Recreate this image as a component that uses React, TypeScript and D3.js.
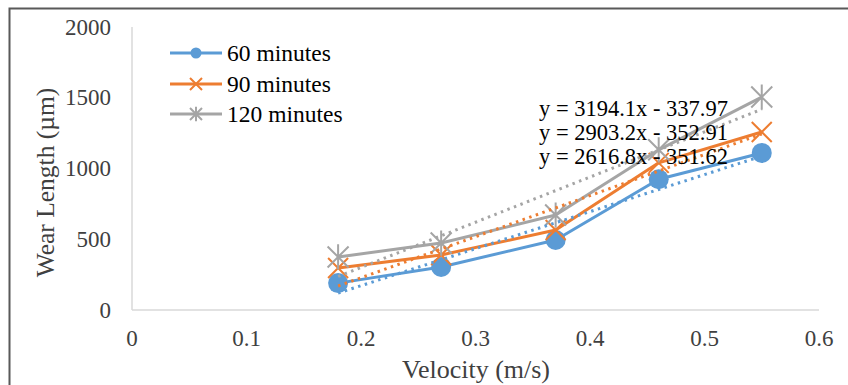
import { useRef, useEffect } from 'react';
import * as d3 from 'd3';

const VELOCITY = [0.18, 0.27, 0.37, 0.46, 0.55];
const WEAR_60 = [190, 304, 495, 924, 1110];
const WEAR_90 = [297, 389, 565, 1040, 1258];
const WEAR_120 = [375, 473, 671, 1132, 1505];

const SERIES = [
  { name: '60 minutes', values: WEAR_60, color: '#5B9BD5', marker: 'circle', eq: 'y = 2616.8x - 351.62', slope: 2616.8, icpt: -351.62 },
  { name: '90 minutes', values: WEAR_90, color: '#ED7D31', marker: 'x', eq: 'y = 2903.2x - 352.91', slope: 2903.2, icpt: -352.91 },
  { name: '120 minutes', values: WEAR_120, color: '#A5A5A5', marker: 'star', eq: 'y = 3194.1x - 337.97', slope: 3194.1, icpt: -337.97 },
];

const X_TICKS = [0, 0.1, 0.2, 0.3, 0.4, 0.5, 0.6];
const Y_TICKS = [0, 500, 1000, 1500, 2000];

const FONT = '"Liberation Serif", "Times New Roman", serif';

type Sel = d3.Selection<SVGGElement, unknown, null, undefined>;

function drawMarker(g: Sel, kind: string, cx: number, cy: number, s: number, color: string) {
  if (kind === 'circle') {
    g.append('circle').attr('cx', cx).attr('cy', cy).attr('r', s).attr('fill', color);
  } else if (kind === 'x') {
    g.append('path')
      .attr('d', `M${cx - s},${cy - s}L${cx + s},${cy + s}M${cx - s},${cy + s}L${cx + s},${cy - s}`)
      .attr('stroke', color).attr('stroke-width', 2).attr('fill', 'none');
  } else {
    g.append('path')
      .attr('d', `M${cx - s},${cy - s}L${cx + s},${cy + s}M${cx - s},${cy + s}L${cx + s},${cy - s}M${cx},${cy - s * 1.2}L${cx},${cy + s * 1.2}`)
      .attr('stroke', color).attr('stroke-width', 2).attr('fill', 'none');
  }
}

export default function App() {
  const svgRef = useRef<SVGSVGElement>(null);

  useEffect(() => {
    if (!svgRef.current) return;
    const width = 848;
    const height = 385;
    const svg = d3.select(svgRef.current);
    svg.selectAll('*').remove();

    svg.append('rect').attr('width', width).attr('height', height).attr('fill', 'white');

    // chart frame (right and bottom edges cropped off)
    svg.append('rect')
      .attr('x', 9.5).attr('y', 8.5).attr('width', 860).attr('height', 420)
      .attr('fill', 'none').attr('stroke', '#595959').attr('stroke-width', 2);

    const x = d3.scaleLinear().domain([0, 0.6]).range([132, 819]);
    const y = d3.scaleLinear().domain([0, 2000]).range([310, 27]);

    // axes lines
    svg.append('line')
      .attr('x1', x(0)).attr('x2', x(0)).attr('y1', y(2000)).attr('y2', y(0))
      .attr('stroke', '#D9D9D9').attr('stroke-width', 1.5);
    svg.append('line')
      .attr('x1', x(0)).attr('x2', x(0.6)).attr('y1', y(0)).attr('y2', y(0))
      .attr('stroke', '#D9D9D9').attr('stroke-width', 1.5);

    // tick labels
    svg.append('g').selectAll('text').data(Y_TICKS).join('text')
      .attr('x', 111).attr('y', d => y(d))
      .attr('text-anchor', 'end').attr('dominant-baseline', 'central')
      .attr('font-family', FONT).attr('font-size', 23).attr('fill', '#404040')
      .text(d => String(d));
    svg.append('g').selectAll('text').data(X_TICKS).join('text')
      .attr('x', d => x(d)).attr('y', 338)
      .attr('text-anchor', 'middle').attr('dominant-baseline', 'central')
      .attr('font-family', FONT).attr('font-size', 23).attr('fill', '#404040')
      .text(d => String(d));

    // axis titles
    svg.append('text')
      .attr('transform', `translate(45,${(y(0) + y(2000)) / 2 + 14}) rotate(-90)`)
      .attr('text-anchor', 'middle').attr('dominant-baseline', 'central')
      .attr('font-family', FONT).attr('font-size', 25.5).attr('fill', '#404040')
      .text('Wear Length (µm)');
    svg.append('text')
      .attr('x', 476).attr('y', 369)
      .attr('text-anchor', 'middle').attr('dominant-baseline', 'central')
      .attr('font-family', FONT).attr('font-size', 26).attr('fill', '#404040')
      .text('Velocity (m/s)');

    const line = d3.line<number>().x((_, i) => x(VELOCITY[i])).y(d => y(d));
    const markerSize: Record<string, number> = { circle: 10, x: 10, star: 10.5 };

    // series lines + markers
    SERIES.forEach(s => {
      const g = svg.append('g');
      g.append('path').attr('d', line(s.values)).attr('fill', 'none')
        .attr('stroke', s.color).attr('stroke-width', 3).attr('stroke-linejoin', 'round');
      s.values.forEach((v, i) => drawMarker(g as Sel, s.marker, x(VELOCITY[i]), y(v), markerSize[s.marker], s.color));
    });

    // linear trendlines
    const [x0, x1] = d3.extent(VELOCITY) as [number, number];
    SERIES.forEach(s => {
      svg.append('line')
        .attr('x1', x(x0)).attr('y1', y(s.slope * x0 + s.icpt))
        .attr('x2', x(x1)).attr('y2', y(s.slope * x1 + s.icpt))
        .attr('stroke', s.color).attr('stroke-width', 3)
        .attr('stroke-dasharray', '2.5,4.5');
    });

    // trendline equations
    const eqOrder = [SERIES[2], SERIES[1], SERIES[0]];
    svg.append('g').selectAll('text').data(eqOrder).join('text')
      .attr('x', 539).attr('y', (_, i) => 108 + i * 24)
      .attr('dominant-baseline', 'central')
      .attr('font-family', FONT).attr('font-size', 22.5).attr('fill', '#000')
      .text(d => d.eq);

    // legend
    const legendY = [53, 84, 114];
    SERIES.forEach((s, i) => {
      const g = svg.append('g');
      g.append('line').attr('x1', 170).attr('x2', 222).attr('y1', legendY[i]).attr('y2', legendY[i])
        .attr('stroke', s.color).attr('stroke-width', 3);
      drawMarker(g as Sel, s.marker, 196, legendY[i], s.marker === 'circle' ? 5.5 : 6, s.color);
      g.append('text').attr('x', 227).attr('y', legendY[i])
        .attr('dominant-baseline', 'central')
        .attr('font-family', FONT).attr('font-size', 23.5).attr('fill', '#000')
        .text(s.name);
    });
  }, []);

  return (
    <svg ref={svgRef} width={848} height={385}
      style={{ position: 'absolute', left: 0, top: 0, display: 'block' }} />
  );
}
